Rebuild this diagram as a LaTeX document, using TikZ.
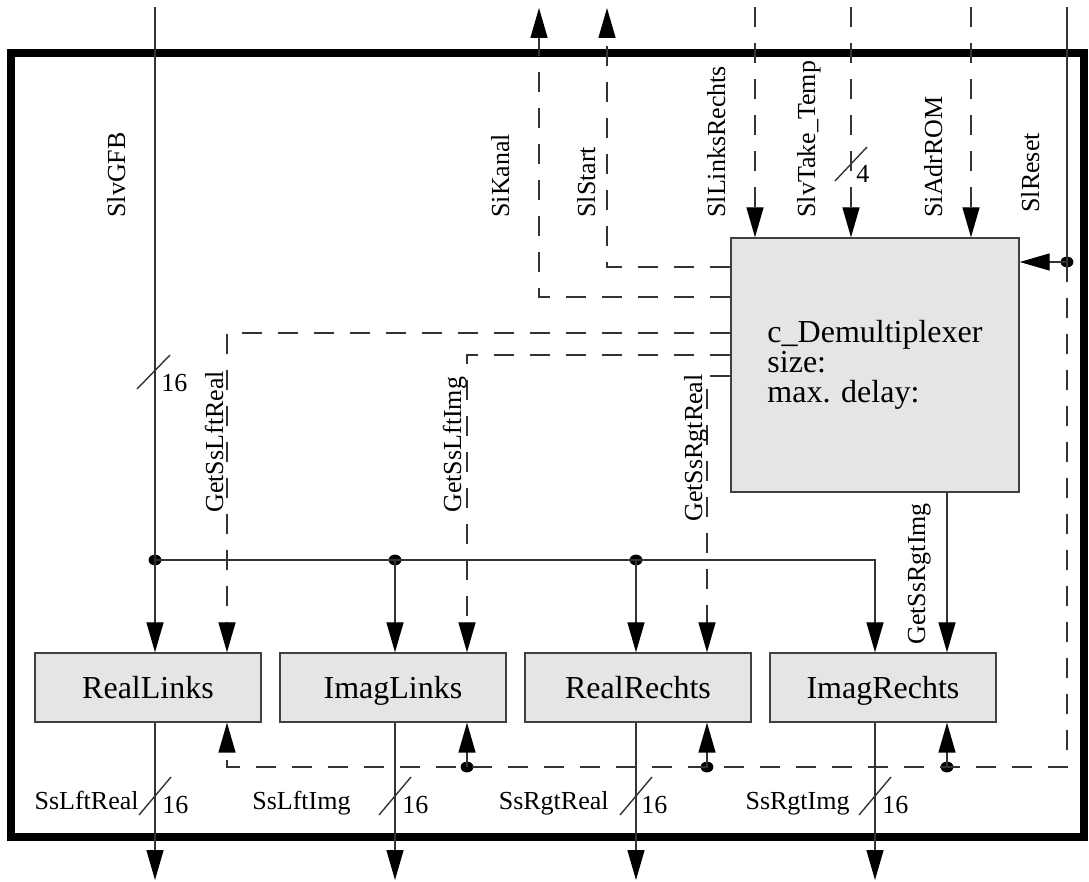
\documentclass[tikz,border=0pt]{standalone}
\usepackage{fontspec}
\setmainfont{Liberation Serif}
\usetikzlibrary{arrows.meta,positioning,shapes.geometric}

\begin{document}
\begin{tikzpicture}[x=0.5pt,y=-0.5pt]
	\tikzstyle{block} = [draw=black!75, fill=gray!20, line width=0.7pt, inner sep=0pt,
		font=\fontsize{16pt}{15pt}\selectfont]
	\tikzstyle{unit} = [block, minimum width=113pt, minimum height=34.5pt, text height=11pt, text depth=0pt]
	\tikzstyle{wire} = [draw=black!80, line width=0.7pt]
	\tikzstyle{line} = [wire, -{Triangle[length=15pt,width=8.5pt,black]}]
	\tikzstyle{ctrl} = [dash pattern=on 10pt off 8pt]
	\tikzstyle{sig} = [font=\fontsize{13pt}{15pt}\selectfont, inner sep=0pt]
	\tikzstyle{vsig} = [sig, rotate=90, anchor=base west]
	\tikzstyle{dot} = [ellipse, fill=black, inner sep=0pt, minimum width=6.4pt, minimum height=5.4pt]

	\useasboundingbox (0,0) rectangle (1089,882);

	% frame of the entity
	\draw[line width=4pt] (11,53) rectangle (1084,837);

	% blocks
	\node(Demux)[block, minimum width=144pt, minimum height=127pt, align=left] at (875,365)
		{c\_Demultiplexer\\size:\\max. delay:};
	\node(RealLinks)[unit] at (148,687.5) {RealLinks};
	\tikzset{node distance = 122.5pt}
	\node(ImagLinks)[unit, right of = RealLinks]{ImagLinks};
	\node(RealRechts)[unit, right of = ImagLinks]{RealRechts};
	\node(ImagRechts)[unit, right of = RealRechts]{ImagRechts};

	% ports on the frame
	\coordinate (TopGFB) at (155,7);
	\coordinate (TopKanal) at (539,8);
	\coordinate (TopStart) at (607,8);
	\coordinate (TopLR) at (755,7);
	\coordinate (TopTake) at (851,7);
	\coordinate (TopAdr) at (971,7);
	\coordinate (TopReset) at (1067,7);
	\coordinate (OutRL) at (155,880);
	\coordinate (OutIL) at (395,880);
	\coordinate (OutRR) at (636,880);
	\coordinate (OutIR) at (875,880);

	% junctions
	\node(BusA)[dot] at (155,560) {};
	\node(BusB)[dot] at (395,560) {};
	\node(BusC)[dot] at (636,560) {};
	\node(ResetDot)[dot] at (1067,262) {};
	\node(RstA)[dot] at (467,767) {};
	\node(RstB)[dot] at (707,767) {};
	\node(RstC)[dot] at (947,767) {};

	% SlvGFB bus to the four units
	\draw[line] (TopGFB) -- (RealLinks.north -| TopGFB);
	\draw[wire] (BusA.center) -- (BusC.center);
	\draw[line] (BusC.center) -| (ImagRechts.north -| OutIR);
	\draw[line] (BusB.center) -- (ImagLinks.north -| BusB);
	\draw[line] (BusC.center) -- (RealRechts.north -| BusC);
	\draw[wire] (137,389) -- (170,355);
	\node(WidthGFB)[sig, anchor=base west] at (161,392) {16};

	% control signals of the demultiplexer
	\draw[line, ctrl] (Demux.west |- 0,297) -| (TopKanal);
	\draw[line, ctrl] (Demux.west |- 0,267) -| (TopStart);
	\draw[line, ctrl] (TopLR) -- (Demux.north -| TopLR);
	\draw[line, ctrl] (TopTake) -- (Demux.north -| TopTake);
	\draw[line, ctrl] (TopAdr) -- (Demux.north -| TopAdr);
	\draw[wire] (835,181) -- (867,147);
	\node(WidthTake)[sig, anchor=base west] at (856,183) {4};

	% reset
	\draw[wire] (TopReset) -- (ResetDot.center);
	\draw[line] (ResetDot.center) -- (Demux.east |- ResetDot);
	\draw[line, ctrl] (ResetDot.center) -- (1067,767) -| (RealLinks.south -| 227,0);
	\draw[line] (RstA.center) -- (ImagLinks.south -| RstA);
	\draw[line] (RstB.center) -- (RealRechts.south -| RstB);
	\draw[line] (RstC.center) -- (ImagRechts.south -| RstC);

	% get signals
	\draw[line, ctrl] (Demux.west |- 0,333) -| (RealLinks.north -| 227,0);
	\draw[line, ctrl] (Demux.west |- 0,355) -| (ImagLinks.north -| 467,0);
	\draw[line, ctrl] (Demux.west |- 0,376) -| (RealRechts.north -| 707,0);
	\draw[line] (Demux.south -| RstC) -- (ImagRechts.north -| RstC);

	% outputs
	\draw[line] (RealLinks.south -| OutRL) -- (OutRL);
	\draw[line] (ImagLinks.south -| OutIL) -- (OutIL);
	\draw[line] (RealRechts.south -| OutRR) -- (OutRR);
	\draw[line] (ImagRechts.south -| OutIR) -- (OutIR);
	\foreach \x in {155,395,636,875}
		\draw[wire] (\x-16,815) -- (\x+16,777);
	\node(WidthRL)[sig, anchor=base west] at (162,813) {16};
	\node(WidthIL)[sig, anchor=base west] at (402,813) {16};
	\node(WidthRR)[sig, anchor=base west] at (641,813) {16};
	\node(WidthIR)[sig, anchor=base west] at (882,813) {16};
	\node(LblRL)[sig, anchor=base east] at (139,810) {SsLftReal};
	\node(LblIL)[sig, anchor=base east] at (351,810) {SsLftImg};
	\node(LblRR)[sig, anchor=base east] at (609,810) {SsRgtReal};
	\node(LblIR)[sig, anchor=base east] at (850,810) {SsRgtImg};

	% signal names
	\node(LblGFB)[vsig] at (125,218) {SlvGFB};
	\node(LblKanal)[vsig] at (509,218) {SiKanal};
	\node(LblStart)[vsig] at (595,218) {SlStart};
	\node(LblLR)[vsig] at (725,218) {SlLinksRechts};
	\node(LblTake)[vsig] at (815,218) {SlvTake\_Temp};
	\node(LblAdr)[vsig] at (942,218) {SiAdrROM};
	\node(LblReset)[vsig] at (1039,213) {SlReset};
	\node(LblGLR)[vsig] at (223,513) {GetSsLftReal};
	\node(LblGLI)[vsig] at (461,513) {GetSsLftImg};
	\node(LblGRR)[vsig] at (702,522) {GetSsRgtReal};
	\node(LblGRI)[vsig] at (925,645) {GetSsRgtImg};

\end{tikzpicture}
\end{document}
